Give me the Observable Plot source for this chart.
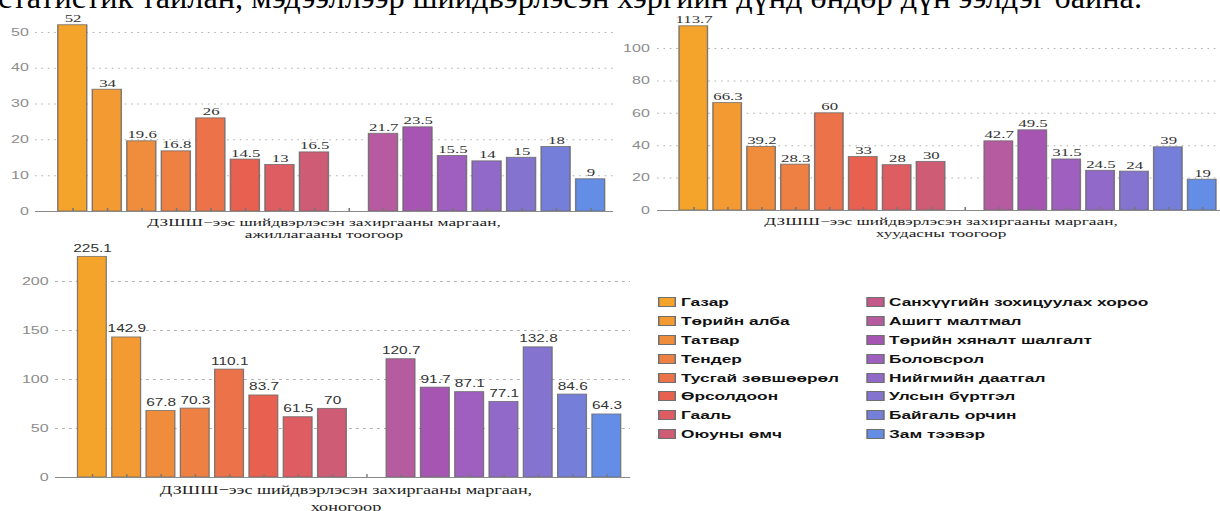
<!DOCTYPE html>
<html><head><meta charset="utf-8">
<script src="https://cdn.jsdelivr.net/npm/d3@7"></script>
<script src="https://cdn.jsdelivr.net/npm/@observablehq/plot@0.6"></script>
<style>
html,body{margin:0;padding:0;background:#fff;overflow:hidden;}
#root{position:relative;width:1220px;height:511px;overflow:hidden;background:#fff;}
.wrap{position:absolute;transform-origin:0 0;}
.xl{position:absolute;white-space:nowrap;transform:translateX(-50%);color:#222;font-family:"Liberation Serif",serif;}
.lg{position:absolute;white-space:nowrap;font-family:"Liberation Sans",Arial,sans-serif;font-weight:bold;color:#111;}
.sw{position:absolute;border:1px solid #6f6f6f;box-sizing:border-box;}
#hdr{position:absolute;white-space:nowrap;font-family:"Liberation Serif",serif;transform-origin:0 0;color:#000;}
</style></head><body><div id="root"></div>
<script>
const categories = ["Газар","Төрийн алба","Татвар","Тендер","Тусгай зөвшөөрөл","Өрсолдоон","Гааль","Оюуны өмч",
  "Санхүүгийн зохицуулах хороо","Ашигт малтмал","Төрийн хяналт шалгалт","Боловсрол","Нийгмийн даатгал","Улсын бүртгэл","Байгаль орчин","Зам тээвэр"];
const colors = ["#F5A42B","#F39A33","#F08D3C","#EE8043","#EC724A","#E8604F","#DE5D62","#CF5C75",
  "#C4588A","#B65BA0","#A656B2","#9E5FBF","#9169C8","#8474CF","#757FD9","#648DE6"];
const workCount = [52,34,19.6,16.8,26,14.5,13,16.5,null,21.7,23.5,15.5,14,15,18,9];
const pageCount = [113.7,66.3,39.2,28.3,60,33,28,30,null,42.7,49.5,31.5,24.5,24,39,19];
const dayCount = [225.1,142.9,67.8,70.3,110.1,83.7,61.5,70,null,120.7,91.7,87.1,77.1,132.8,84.6,64.3];
const ticks1 = [0,10,20,30,40,50];
const ticks2 = [0,20,40,60,80,100];
const ticks3 = [0,50,100,150,200];
const xTitleLine1 = "ДЗШШ−ээс шийдвэрлэсэн захиргааны маргаан,";
const xTitleLine2 = ["ажиллагааны тоогоор","хуудасны тоогоор","хоногоор"];
const headerText = "статистик тайлан, мэдээллээр шийдвэрлэсэн хэргийн дүнд өндөр дүн ээлдэг байна.";

const root = document.getElementById("root");

const hdr = document.createElement("div");
hdr.id = "hdr";
hdr.textContent = headerText;
hdr.style.fontSize = "31px";
hdr.style.lineHeight = "31px";
hdr.style.left = "-2px";
hdr.style.top = "-18px";
root.appendChild(hdr);
const hw = hdr.getBoundingClientRect().width;
hdr.style.transform = `scaleX(${1144 / hw})`;

function panel(cfg) {
  const S = cfg.S;
  const w = cfg.W / S;
  const rows = categories.map((c, i) => ({cat: c, v: cfg.values[i]}));
  const valid = rows.filter(d => d.v != null);
  const frameH = cfg.H - cfg.mt - cfg.mb;
  const wrap = document.createElement("div");
  wrap.className = "wrap";
  wrap.style.left = cfg.left + "px";
  wrap.style.top = cfg.top + "px";
  wrap.style.width = w + "px";
  wrap.style.height = (cfg.H + 40) + "px";
  wrap.style.transform = `scaleX(${S})`;
  const plot = Plot.plot({
    width: w, height: cfg.H,
    marginTop: cfg.mt, marginBottom: cfg.mb,
    marginLeft: cfg.ml / S, marginRight: cfg.mr / S,
    style: {fontFamily: "Liberation Sans, Arial, sans-serif", fontSize: cfg.tickFont + "px", color: "#8c8c8c", background: "transparent", overflow: "visible"},
    x: {type: "band", domain: categories, range: [cfg.r0 / S, cfg.r1 / S], paddingInner: 0.16, paddingOuter: 0.08, round: false, axis: null},
    y: {domain: cfg.yDomain, axis: null},
    color: {domain: categories, range: colors},
    marks: [
      Plot.gridY(cfg.ticks.filter(t => t > 0), {stroke: "#b0b0b0", strokeOpacity: 1, strokeDasharray: cfg.dash}),
      Plot.axisY(cfg.ticks, {tickSize: 0, tickPadding: cfg.tickPad / S, fontSize: cfg.tickFont, label: null}),
      Plot.barY(valid, {x: "cat", y: "v", fill: "cat", stroke: "#6a6a6a", strokeWidth: 0.9, strokeOpacity: 0.85}),
      Plot.ruleY([0], {stroke: "#8a8a8a", strokeWidth: 1.1}),
      Plot.tickX(rows, {x: "cat", stroke: "#777", insetTop: frameH - 3}),
      Plot.text(valid, {x: "cat", y: "v", text: d => String(d.v), lineAnchor: "bottom", dy: -cfg.labelGap,
        fill: "#333", fontFamily: cfg.labelFamily, fontSize: cfg.labelFont})
    ]
  });
  plot.style.position = "absolute";
  plot.style.left = "0px";
  plot.style.top = "0px";
  plot.style.maxWidth = "none";
  wrap.appendChild(plot);
  [xTitleLine1, cfg.line2].forEach((t, i) => {
    const d = document.createElement("div");
    d.className = "xl";
    d.textContent = t;
    d.style.fontSize = cfg.xlFont + "px";
    d.style.lineHeight = cfg.xlLh + "px";
    d.style.left = (cfg.xlCx / S) + "px";
    d.style.top = (cfg.xlY[i] - cfg.xlLh / 2) + "px";
    wrap.appendChild(d);
  });
  root.appendChild(wrap);
}

panel({left: 0, top: 0, W: 615, H: 218, S: 1.6, mt: 14, mb: 7, ml: 35, mr: 2, r0: 55, r1: 607.4,
  tickPad: 7, yDomain: [0, 55], ticks: ticks1, tickFont: 10, labelFont: 10.5, labelFamily: "Liberation Serif, serif",
  labelGap: 3, dash: "1,3", values: workCount, line2: xTitleLine2[0], xlFont: 10.8, xlLh: 12, xlCx: 324, xlY: [222, 234]});

panel({left: 615, top: 0, W: 605, H: 218, S: 1.6, mt: 15.6, mb: 8, ml: 42, mr: 0, r0: 61.3, r1: 603.7,
  tickPad: 8, yDomain: [0, 120], ticks: ticks2, tickFont: 10, labelFont: 10.5, labelFamily: "Liberation Serif, serif",
  labelGap: 3, dash: "1,3", values: pageCount, line2: xTitleLine2[1], xlFont: 10.8, xlLh: 12, xlCx: 326, xlY: [221, 233]});

panel({left: 0, top: 235, W: 640, H: 245, S: 1.4, mt: 11.7, mb: 3, ml: 55, mr: 10, r0: 74.7, r1: 623.5,
  tickPad: 7, yDomain: [0, 235], ticks: ticks3, tickFont: 11.5, labelFont: 11, labelFamily: "Liberation Sans, Arial, sans-serif",
  labelGap: 5, dash: "2,3", values: dayCount, line2: xTitleLine2[2], xlFont: 13, xlLh: 16, xlCx: 346, xlY: [255, 271.7]});

// legend
(function legend() {
  const S = 1.5;
  const wrap = document.createElement("div");
  wrap.className = "wrap";
  wrap.style.left = "640px";
  wrap.style.top = "280px";
  wrap.style.width = (580 / S) + "px";
  wrap.style.height = "180px";
  wrap.style.transform = `scaleX(${S})`;
  const swX = [658.5 - 640, 866.7 - 640];
  const txX = [681 - 640, 889 - 640];
  categories.forEach((c, i) => {
    const col = Math.floor(i / 8), row = i % 8;
    const cy = 302.3 - 280 + row * 18.8;
    const sw = document.createElement("div");
    sw.className = "sw";
    sw.style.left = (swX[col] / S) + "px";
    sw.style.top = (cy - 5) + "px";
    sw.style.width = (17.5 / S) + "px";
    sw.style.height = "10px";
    sw.style.background = colors[i];
    wrap.appendChild(sw);
    const t = document.createElement("div");
    t.className = "lg";
    t.textContent = c;
    t.style.fontSize = "11.5px";
    t.style.lineHeight = "14px";
    t.style.left = (txX[col] / S) + "px";
    t.style.top = (cy - 7) + "px";
    wrap.appendChild(t);
  });
  root.appendChild(wrap);
})();
</script></body></html>
